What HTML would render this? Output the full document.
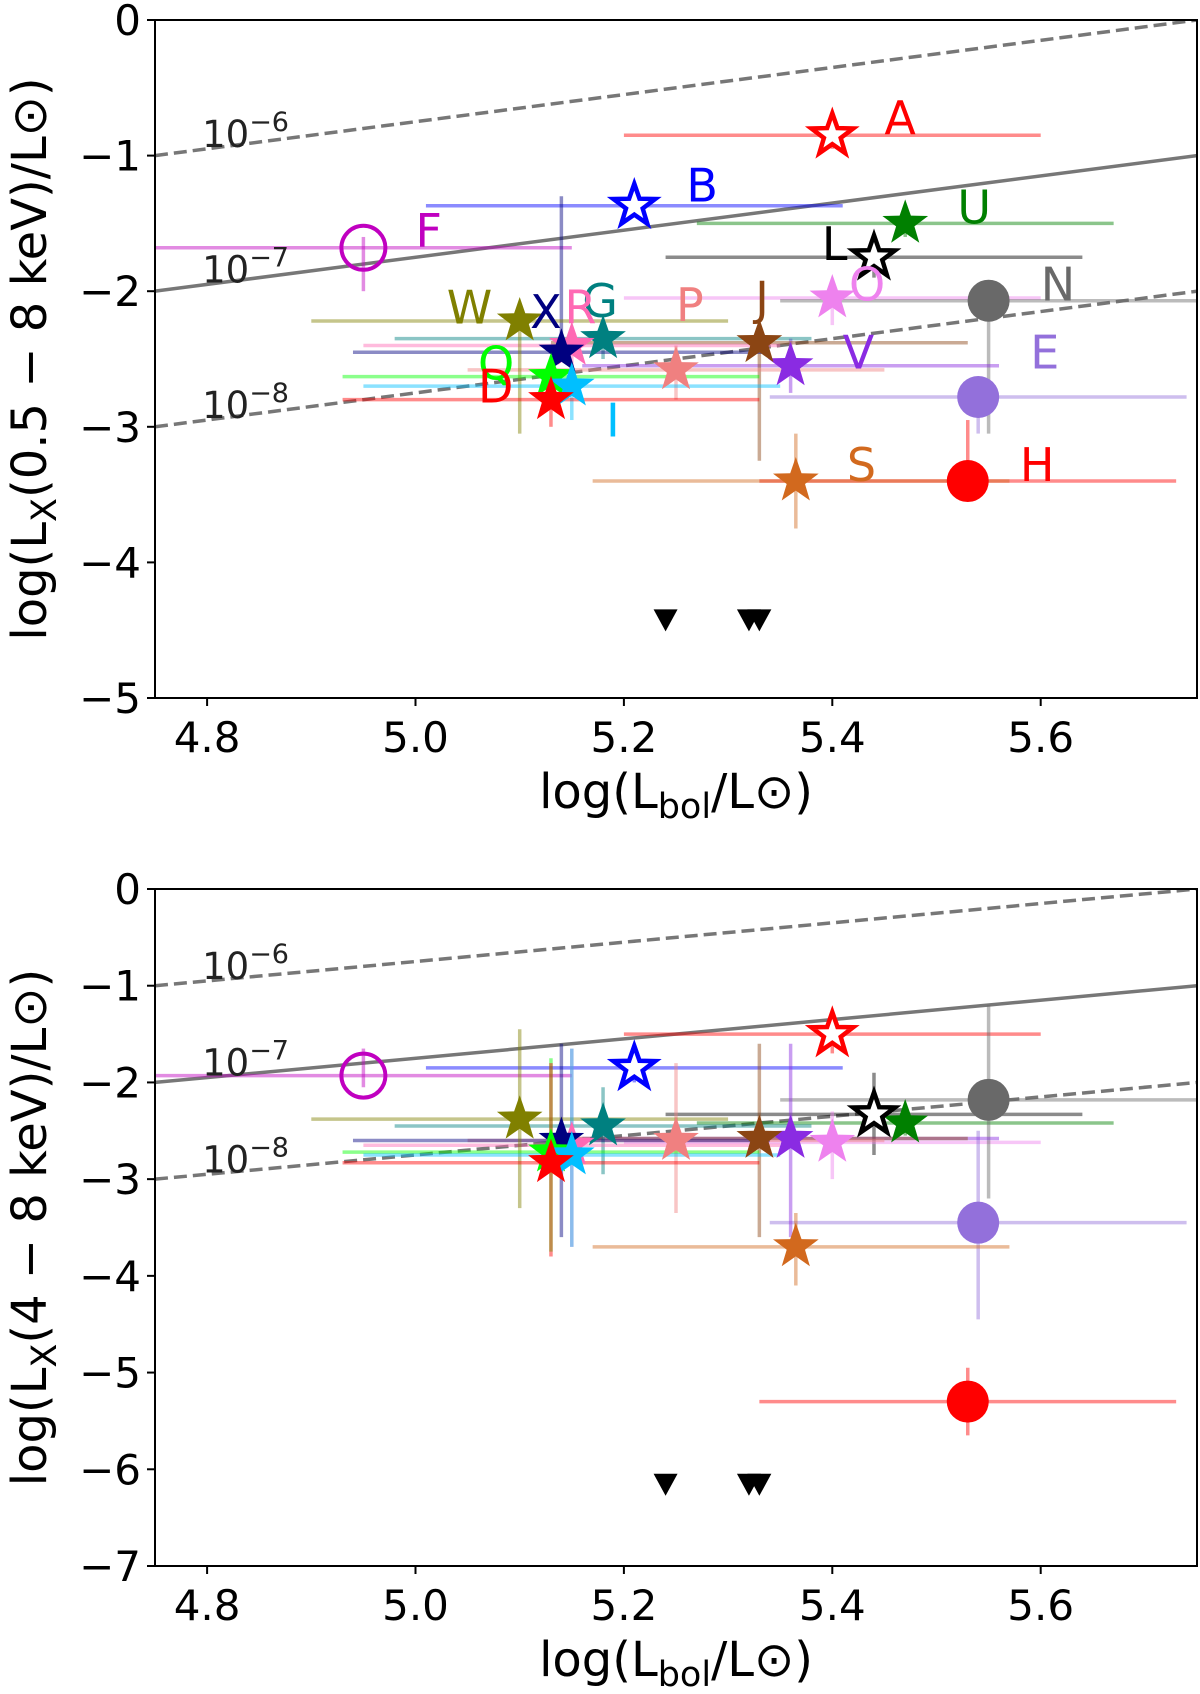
<!DOCTYPE html>
<html><head><meta charset="utf-8"><style>
body{margin:0;background:#fff}
svg{display:block;font-family:"DejaVu Sans","Liberation Sans",sans-serif}
</style></head><body>
<svg id="chart" width="1200" height="1694" viewBox="0 0 1200 1694"></svg>
<script>
const names=["A","B","F","U","L","O","N","E","H","S","V","J","P","G","R","X","W","Q","I","D"];
const colors=["red","blue","#c000c0","green","black","violet","dimgray","mediumpurple","red","chocolate","blueviolet","saddlebrown","lightcoral","teal","hotpink","navy","olive","lime","deepskyblue","red"];
const markers=["ostar","ostar","ocirc","star","ostar","star","circ","circ","circ","star","star","star","star","star","star","star","star","star","star","star"];
const lbol=[5.40,5.21,4.95,5.47,5.44,5.40,5.55,5.54,5.53,5.365,5.36,5.33,5.25,5.18,5.15,5.14,5.10,5.13,5.15,5.13];
const lbolLo=[5.20,5.01,4.75,5.27,5.24,5.20,5.35,5.34,5.33,5.17,5.16,5.13,5.05,4.98,4.95,4.94,4.90,4.93,4.95,4.93];
const lbolHi=[5.60,5.41,5.15,5.67,5.64,5.60,5.75,5.74,5.73,5.57,5.56,5.53,5.45,5.38,5.35,5.34,5.30,5.33,5.35,5.33];
const lx1=[-0.85,-1.37,-1.68,-1.50,-1.75,-2.05,-2.07,-2.78,-3.40,-3.40,-2.55,-2.38,-2.58,-2.35,-2.40,-2.45,-2.22,-2.63,-2.70,-2.80];
const lx1Lo=[-0.95,-1.45,-2.0,-1.6,-1.9,-2.25,-3.05,-3.05,-2.95,-3.75,-2.75,-3.25,-2.8,-2.5,-2.6,-1.3,-3.05,-2.8,-2.95,-3.0];
const lx1Hi=[-0.75,-1.3,-1.6,-1.4,-1.65,-1.95,-2.0,-2.7,-3.3,-3.05,-2.35,-2.3,-2.4,-2.25,-2.3,-2.5,-2.15,-2.55,-2.6,-2.7];
const lx2=[-1.50,-1.85,-1.93,-2.42,-2.33,-2.62,-2.18,-3.45,-5.30,-3.70,-2.58,-2.58,-2.60,-2.45,-2.65,-2.60,-2.38,-2.72,-2.75,-2.83];
const lx2Lo=[-1.7,-2.0,-2.05,-2.55,-2.75,-3.0,-3.2,-4.45,-5.65,-4.1,-3.6,-3.6,-3.35,-2.95,-3.7,-3.6,-3.3,-3.75,-3.7,-3.8];
const lx2Hi=[-1.3,-1.7,-1.65,-2.3,-1.9,-2.3,-1.2,-2.5,-4.95,-3.35,-1.6,-1.6,-1.8,-2.05,-1.65,-1.6,-1.45,-1.75,-1.65,-1.8];
const labX=[5.45,5.26,5.00,5.52,5.39,5.416,5.60,5.59,5.58,5.414,5.41,5.326,5.25,5.16,5.143,5.11,5.03,5.06,5.183,5.06];
const labY=[-0.84,-1.34,-1.67,-1.5,-1.77,-2.07,-2.07,-2.57,-3.4,-3.4,-2.57,-2.17,-2.22,-2.19,-2.24,-2.27,-2.24,-2.65,-3.07,-2.82];
const upperX=[5.24,5.32,5.33];
const upper1=[-4.42,-4.42,-4.42];
const upper2=[-6.15,-6.15,-6.15];
const ratioLog=[-6,-7,-8];
const xTicks=[4.8,5.0,5.2,5.4,5.6];

const svg=document.getElementById('chart');
const NS="http://www.w3.org/2000/svg";
function mk(t,a,p){const e=document.createElementNS(NS,t);for(const k in a)e.setAttribute(k,a[k]);(p||svg).appendChild(e);return e;}
const X0=4.75,X1=5.75,PX0=155,PX1=1197;
function sx(v){return PX0+(v-X0)/(X1-X0)*(PX1-PX0);}
function ratioY(x,r){return x+r+0.25;}
function starPath(cx,cy,R){const r=R*0.4;let d="";for(let i=0;i<10;i++){const a=-Math.PI/2+i*Math.PI/5;const rr=i%2?r:R;d+=(i?"L":"M")+(cx+rr*Math.cos(a)).toFixed(1)+","+(cy+rr*Math.sin(a)).toFixed(1);}return d+"Z";}

function panel(pi,top,bot,ymin,vals,lo,hi,ups,ylab,showLabels){
  const sy=v=>top+(0-v)/(0-ymin)*(bot-top);
  const g=mk('g',{});
  
  
  const defs=mk('clipPath',{id:'c'+pi},g);mk('rect',{x:PX0,y:top,width:PX1-PX0,height:bot-top},defs);
  const plot=mk('g',{'clip-path':'url(#c'+pi+')'},g);
  ratioLog.forEach((r,i)=>{
    const l=mk('line',{x1:sx(X0),y1:sy(ratioY(X0,r)),x2:sx(X1),y2:sy(ratioY(X1,r)),stroke:'#777','stroke-width':3.5,'stroke-dasharray':i==1?'none':'13,6'},plot);
    
    
    const t=mk('text',{x:sx(4.8)-5,y:sy(ratioY(4.8,r))-2,'font-size':37,fill:'#222'},g);
    t.innerHTML='10<tspan dy="-16" font-size="27">−'+(-r)+'</tspan>';
    
    
  });
  names.forEach((n,i)=>{
    const eh=mk('line',{x1:sx(lbolLo[i]),x2:sx(lbolHi[i]),y1:sy(vals[i]),y2:sy(vals[i]),stroke:colors[i],'stroke-width':3.5,opacity:0.45},plot);
    
    
    const ev=mk('line',{x1:sx(lbol[i]),x2:sx(lbol[i]),y1:sy(lo[i]),y2:sy(hi[i]),stroke:colors[i],'stroke-width':3.5,opacity:0.45},plot);
    
    
  });
  names.forEach((n,i)=>{
    const cx=sx(lbol[i]),cy=sy(vals[i]),m=markers[i];let e;
    if(m=='star')e=mk('path',{d:starPath(cx,cy,24),fill:colors[i]},plot);
    else if(m=='ostar')e=mk('path',{d:starPath(cx,cy,22),fill:'#fff',stroke:colors[i],'stroke-width':4.5,'stroke-linejoin':'miter'},plot);
    else if(m=='circ')e=mk('circle',{cx:cx,cy:cy,r:21,fill:colors[i]},plot);
    else e=mk('circle',{cx:cx,cy:cy,r:22,fill:'none',stroke:colors[i],'stroke-width':4},plot);
    
    
    if(showLabels){
      const t=mk('text',{x:sx(labX[i]),y:sy(labY[i]),'font-size':46,fill:colors[i]},g);
      t.textContent=n;
      
      
    }
  });
  upperX.forEach((u,i)=>{
    const cx=sx(u),cy=sy(ups[i]);
    const t=mk('path',{d:`M${cx-12},${cy-10}L${cx+12},${cy-10}L${cx},${cy+12}Z`,fill:'#000'},plot);
    
    
  });
  const fr=mk('rect',{x:PX0,y:top,width:PX1-PX0,height:bot-top,fill:'none',stroke:'#000','stroke-width':2},g);
  
  
  for(let v=0;v>=ymin;v--){
    mk('line',{x1:PX0-8,x2:PX0,y1:sy(v),y2:sy(v),stroke:'#000','stroke-width':2},g);
    const t=mk('text',{x:PX0-14,y:sy(v)+15,'font-size':42,'text-anchor':'end'},g);
    t.textContent=v==0?'0':'−'+(-v);
    
    
  }
  xTicks.forEach(v=>{
    mk('line',{x1:sx(v),x2:sx(v),y1:bot,y2:bot+8,stroke:'#000','stroke-width':2},g);
    const t=mk('text',{x:sx(v),y:bot+54,'font-size':42,'text-anchor':'middle'},g);
    t.textContent=v.toFixed(1);
    
    
  });
  const xl=mk('text',{x:676,y:bot+110,'font-size':48,'text-anchor':'middle'},g);
  xl.innerHTML='log(L<tspan dy="10" font-size="35">bol</tspan><tspan dy="-10">/L⊙)</tspan>';
  
  
  const yl=mk('text',{x:0,y:0,'font-size':48,'text-anchor':'middle',transform:`translate(46,${(top+bot)/2}) rotate(-90)`},g);
  yl.innerHTML='log(L<tspan dy="10" font-size="35">X</tspan><tspan dy="-10">('+ylab+')/L⊙)</tspan>';
  
  
}
panel(0,20,698,-5,lx1,lx1Lo,lx1Hi,upper1,'0.5 − 8 keV',true);
panel(1,889,1566,-7,lx2,lx2Lo,lx2Hi,upper2,'4 − 8 keV',false);
</script>
</body></html>
